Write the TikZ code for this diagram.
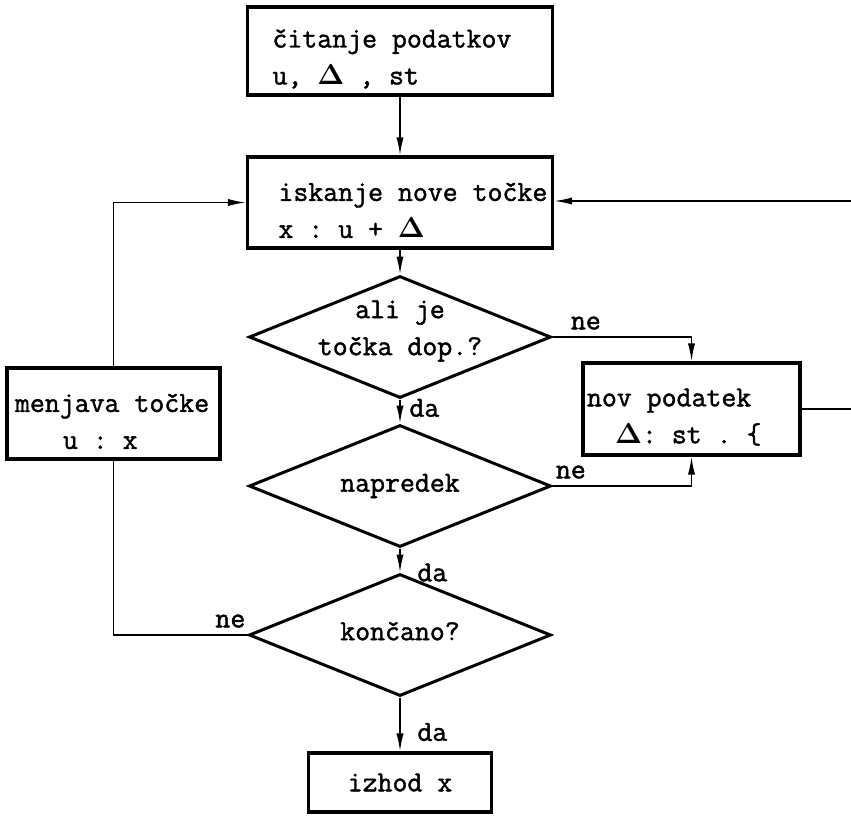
\documentclass[tikz,border=0pt]{standalone}
\usepackage[no-math]{fontspec}
\setmonofont{Latin Modern Mono}[FakeBold=1.5]
\usetikzlibrary{positioning,arrows.meta,shapes.geometric,calc}

\newcommand{\dlt}{$\mathbf{\Delta}$}

\begin{document}
\begin{tikzpicture}[x=0.5pt, y=-0.5pt,
  font=\ttfamily\fontsize{14.5}{18.5}\selectfont,
  block/.style={draw, line width=1.6pt, align=flush left, inner ysep=0pt},
  twoline/.style={text height=17pt},
  decision/.style={draw, diamond, line width=1.5pt, minimum width=151pt, minimum height=61pt, inner sep=0pt},
  dtext/.style={align=flush center},
  flow/.style={-{Latex[length=9pt,width=3.6pt]}, line width=0.8pt},
  plain/.style={line width=0.8pt}]
  \useasboundingbox (0,0) rectangle (851,815);

  % Boxes
  \node[block, twoline, minimum height=44pt, text width=127.5pt, inner xsep=12.5pt] (read) at (400,51) {čitanje~podatkov\\u,~\dlt~,~st};
  \node[block, twoline, minimum height=45.5pt, text width=121.5pt, inner xsep=15.5pt] (search) at (400,202.5) {iskanje~nove~točke\\x~:~u~+~\dlt};
  \node[block, twoline, minimum height=46pt, text width=104.5pt, inner xsep=2pt] (newdata) at (691.5,409) {nov~podatek\\\hspace*{14pt}\dlt:~st~.~\{};
  \node[block, twoline, minimum height=45.5pt, text width=98.5pt, inner xsep=4pt] (change) at (113.5,413.5) {menjava~točke\\\hspace*{24pt}u~:~x};
  \node[block, align=flush center, minimum width=91.5pt, minimum height=29.5pt] (out) at (400,782.5) {izhod~x};

  % Decisions
  \node[decision, label={[dtext, yshift=3pt]center:ali~je\\točka~dop.?}] (feasible) at (400,337) {};
  \node[decision, label={[dtext]center:napredek}] (progress) at (400,486) {};
  \node[decision, label={[dtext, yshift=2pt]center:končano?}] (done) at (400,635) {};

  % Main flow
  \draw[flow] (read.south) -- (search.north);
  \draw[flow] (search.south) -- (feasible.north);
  \draw[flow] (feasible.south) -- node[pos=0.35, right=1pt] {da} (progress.north);
  \draw[flow] (progress.south) -- node[pos=1, right=5pt] {da} (done.north);
  \draw[flow] (done.south) -- node[pos=0.64, right=5pt] {da} (out.north);

  % Branches
  \draw[flow] (feasible.east) -| node[pos=0.12, above] {ne} (newdata.north);
  \draw[flow] (progress.east) -| node[pos=0.066, above] {ne} (newdata.south);
  \draw[plain] (done.west) -| node[pos=0.064, above] {ne} (change.south);
  \draw[flow] (change.north) |- (search.west);

  % Loop back from the right
  \coordinate (backA) at (851,201);
  \coordinate (backB) at (851,409);
  \draw[flow] (backA) -- (backA -| search.east);
  \draw[plain] (newdata.east) -- (backB);

\end{tikzpicture}
\end{document}
